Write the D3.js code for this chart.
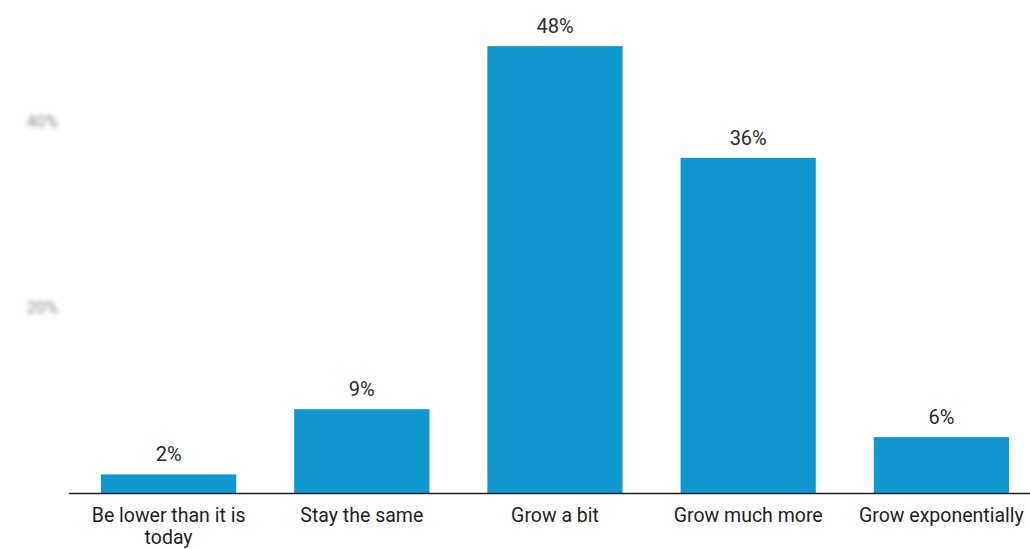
<!DOCTYPE html>
<html>
<head>
<meta charset="utf-8">
<script src="https://cdn.jsdelivr.net/npm/d3@7"></script>
<style>
  html, body { margin: 0; padding: 0; background: #fff; }
  svg { display: block; font-family: Roboto, "Noto Sans", sans-serif; }
</style>
</head>
<body>
<svg id="chart" width="1030" height="549"></svg>
<script>
// Survey answers and their shares (percent)
const categories = ["Be lower than it is today", "Stay the same", "Grow a bit", "Grow much more", "Grow exponentially"];
const shares = [2, 9, 48, 36, 6];
const yTickValues = [20, 40];

const svg = d3.select("#chart");
const W = 1030, H = 549;
const baseline = 493;

const x = d3.scaleBand()
  .domain(categories)
  .range([72, 1038])
  .paddingInner(0.3)
  .paddingOuter(0.15);

const y = d3.scaleLinear()
  .domain([0, 50])
  .range([baseline, baseline - 465.5]);

// Soft filter for the faded y-axis labels
const defs = svg.append("defs");
defs.append("filter").attr("id", "soft")
  .attr("x", "-50%").attr("y", "-50%").attr("width", "200%").attr("height", "200%")
  .append("feGaussianBlur").attr("stdDeviation", 2.2);

// Faded y-axis tick labels
const yAxis = d3.axisLeft(y)
  .tickValues(yTickValues)
  .tickFormat(d => d + "%")
  .tickSize(0)
  .tickPadding(0);
const yg = svg.append("g")
  .attr("transform", "translate(58,0)")
  .attr("filter", "url(#soft)")
  .call(yAxis);
yg.select(".domain").remove();
yg.selectAll("text")
  .attr("fill", "#8a8a8a")
  .style("font-size", "17px")
  .style("font-family", "Roboto, sans-serif");

// Bars
svg.append("g").selectAll("rect")
  .data(categories)
  .join("rect")
  .attr("x", d => x(d))
  .attr("width", x.bandwidth())
  .attr("y", (d, i) => y(shares[i]))
  .attr("height", (d, i) => baseline - y(shares[i]))
  .attr("fill", "#0f98cd");

// Value labels above bars
svg.append("g").selectAll("text")
  .data(categories)
  .join("text")
  .attr("x", d => x(d) + x.bandwidth() / 2)
  .attr("y", (d, i) => y(shares[i]) - 13)
  .attr("text-anchor", "middle")
  .attr("fill", "#2a2a2a")
  .style("font-size", "20px")
  .text((d, i) => shares[i] + "%");

// Baseline axis with wrapped category labels
const xAxis = d3.axisBottom(x).tickSize(0).tickPadding(0);
const xg = svg.append("g")
  .attr("transform", `translate(0,${baseline})`)
  .call(xAxis);
xg.select(".domain").remove();
xg.append("line")
  .attr("x1", 69).attr("x2", W)
  .attr("y1", 0.5).attr("y2", 0.5)
  .attr("stroke", "#222").attr("stroke-width", 1.6);

xg.selectAll(".tick text").each(function(d) {
  const t = d3.select(this);
  t.text(null)
    .attr("y", 0)
    .attr("dy", null)
    .attr("fill", "#1e1e1e")
    .style("font-size", "19.5px")
    .style("font-family", "Roboto, sans-serif");
  const lines = d === "Be lower than it is today" ? ["Be lower than it is", "today"] : [d];
  lines.forEach((ln, k) => {
    t.append("tspan")
      .attr("x", 0)
      .attr("y", 29 + k * 22)
      .text(ln);
  });
});
</script>
</body>
</html>
